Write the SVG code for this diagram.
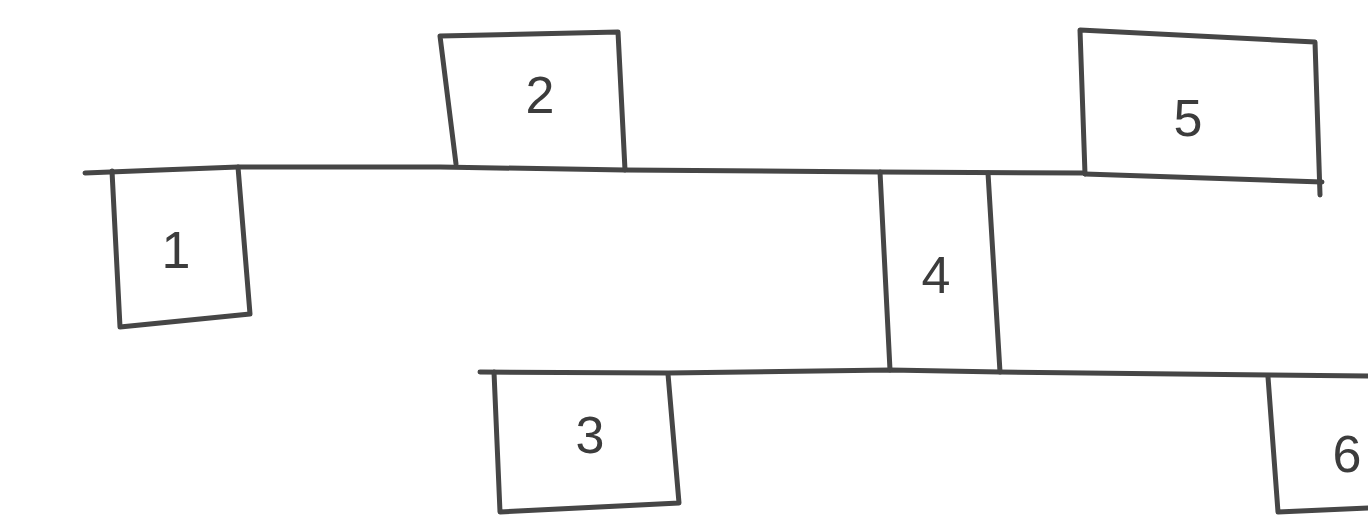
<svg xmlns="http://www.w3.org/2000/svg" width="1368" height="519" viewBox="0 0 1368 519">
<style>
.s{fill:none;stroke:#464646;stroke-width:5;stroke-linecap:round;stroke-linejoin:round}
.t{font-family:"Liberation Sans",Arial,sans-serif;font-size:52px;fill:#3c3c3c;text-anchor:middle}
</style>
<rect width="1368" height="519" fill="#ffffff"/>
<g id="connectors">
<path class="s" d="M85,173 L160,170 L238,167 L440,167 L625,170 L880,172 L1085,173"/>
<path class="s" d="M480,372 L668,373 L890,370 L1000,372 L1270,375 L1368,376"/>
</g>
<g id="node1">
<path class="s" d="M112,171 L120,327 L250,314 L238,167"/>
<text class="t" x="176" y="268">1</text>
</g>
<g id="node2">
<path class="s" d="M456,164 L440,36 L618,32 L625,170"/>
<text class="t" x="540" y="113">2</text>
</g>
<g id="node3">
<path class="s" d="M494,372 L500,512 L679,503 L668,374"/>
<text class="t" x="590" y="453">3</text>
</g>
<g id="node4">
<path class="s" d="M880,172 L890,370"/>
<path class="s" d="M988,173 L1000,372"/>
<text class="t" x="936" y="293">4</text>
</g>
<g id="node5">
<path class="s" d="M1085,174 L1080,30 L1315,42 L1320,195"/>
<path class="s" d="M1085,174 L1322,182"/>
<text class="t" x="1188" y="136">5</text>
</g>
<g id="node6">
<path class="s" d="M1268,377 L1278,512 L1368,508"/>
<text class="t" x="1347" y="472">6</text>
</g>
</svg>
